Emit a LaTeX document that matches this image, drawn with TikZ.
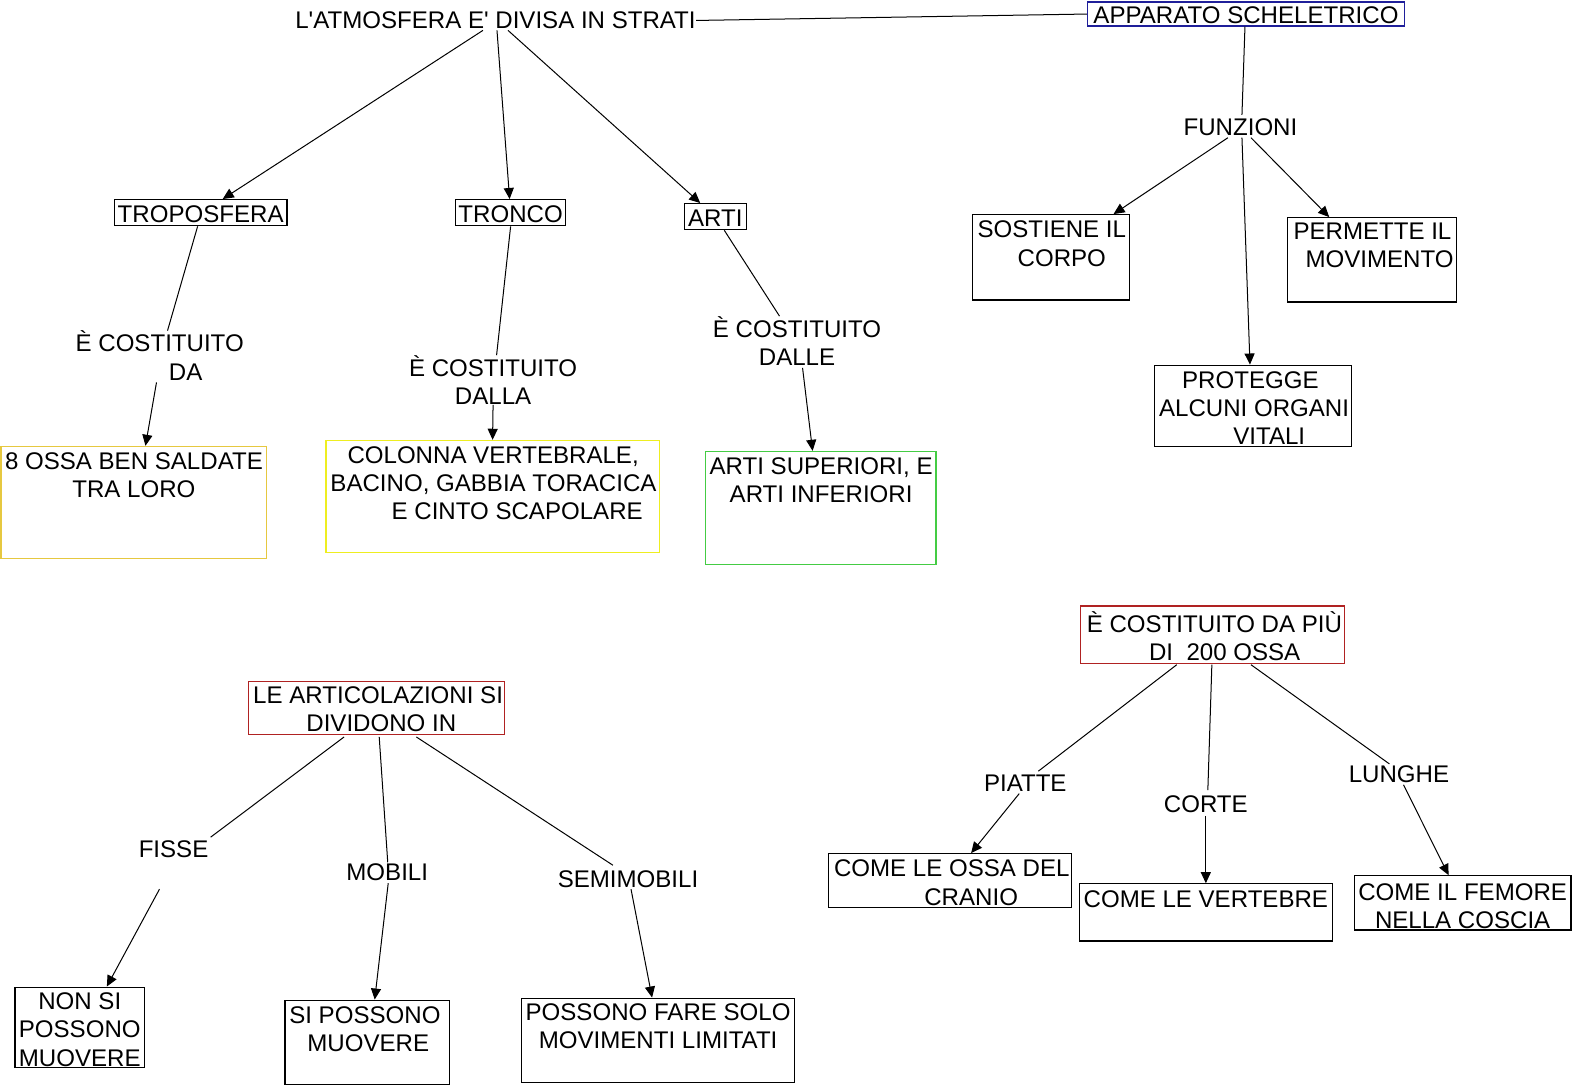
\documentclass[tikz,border=0pt]{standalone}
\usepackage{fontspec}
\setmainfont{Liberation Sans}[Ligatures=TeXOff]
\usetikzlibrary{arrows.meta,calc,fit}
\definecolor{navyb}{HTML}{1F1F9A}
\definecolor{goldb}{HTML}{E6C840}
\definecolor{yelb}{HTML}{EEEE20}
\definecolor{grnb}{HTML}{44CC44}
\definecolor{redb}{HTML}{B02222}
\begin{document}
\begin{tikzpicture}[x=0.5pt,y=-0.5pt,
  every node/.style={font=\fontsize{12}{14}\selectfont, inner sep=0pt},
  tx/.style={yshift=-0.7pt},
  txt/.style={tx, align=center},
  txl/.style={tx, align=left, anchor=west},
  box/.style={draw=black, line width=0.6pt, inner sep=0pt},
  conn/.style={line width=0.5pt},
  arr/.style={conn, -{Triangle[length=5.5pt,width=5pt]}}]
\path[use as bounding box] (0,0) rectangle (1568,1085);

% ---------- top left tree
\node[tx, anchor=west] (title) at (294,19) {L'ATMOSFERA E' DIVISA IN STRATI};
\node[box, draw=navyb, fit={(1084,2) (1400,26)}] (appar) {};
\node[tx] (appart) at (1242,14) {APPARATO SCHELETRICO};
\draw[conn] (title.east) -- (appar.west);

\node[box, fit={(114,199) (286,225)}] (tropo) {};
\node[tx] (tropot) at (200,212) {TROPOSFERA};
\node[box, fit={(454,199) (564,225)}] (tronco) {};
\node[tx] (troncot) at (509,212) {TRONCO};
\node[box, fit={(682,203) (744,229)}] (arti) {};
\node[tx] (artit) at (713,216) {ARTI};

\draw[arr] ($(title.south)+(-12.5,1)$) -- ($(tropo.north)+(22,0)$);
\draw[arr] ($(title.south)+(1.5,1)$) -- ($(tronco.north)+(-1,0)$);
\draw[arr] ($(title.south)+(12.5,1)$) -- ($(arti.north)+(-15,0)$);

% troposfera branch
\node[txl] (lbl1) at (75,353) {È COSTITUITO\\\hspace*{46.5pt}DA};
\node[box, draw=goldb, fit={(1,445) (266,557)}] (ossa) {};
\node[txt] (ossat) at (133.5,472.5) {8 OSSA BEN SALDATE\\TRA LORO};
\draw[conn] ($(tropo.south)+(-3,0)$) -- ($(lbl1.north west)+(92,0)$);
\draw[arr] ($(lbl1.south west)+(81,2)$) -- ($(ossa.north)+(11.5,0)$);

% tronco branch
\node[txt] (lbl2) at (491.5,377.5) {È COSTITUITO\\DALLA};
\node[box, draw=yelb, fit={(325,439) (657,551)}] (colon) {};
\node[txl] (colont) at (329,480.5) {\hspace*{8.5pt}COLONNA VERTEBRALE,\\BACINO, GABBIA TORACICA\\\hspace*{30.5pt}E CINTO SCAPOLARE};
\draw[conn] (tronco.south) -- ($(lbl2.north)+(3.5,0)$);
\draw[arr] ($(lbl2.south)+(0,0)$) -- (colon.north);

% arti branch
\node[txt] (lbl3) at (794.5,338.5) {È COSTITUITO\\DALLE};
\node[box, draw=grnb, fit={(703,450) (933,563)}] (artis) {};
\node[txt] (artist) at (818.5,477.5) {ARTI SUPERIORI, E\\ARTI INFERIORI};
\draw[conn] ($(arti.south)+(9,0)$) -- ($(lbl3.north)+(-17.5,0)$);
\draw[arr] ($(lbl3.south)+(5.5,2)$) -- ($(artis.north)+(-8,0)$);

% ---------- apparato scheletrico
\node[tx] (funz) at (1236.5,125) {FUNZIONI};
\draw[conn] ($(appar.south)+(-1,0)$) -- ($(funz.north)+(1.5,-3)$);
\node[box, fit={(969,214) (1126,299)}] (sost) {};
\node[txl] (sostt) at (974,241.5) {SOSTIENE IL\\\hspace*{20pt}CORPO};
\node[box, fit={(1283,217) (1452,301)}] (perm) {};
\node[txl] (permt) at (1289,243) {PERMETTE IL\\\hspace*{6pt}MOVIMENTO};
\node[box, fit={(1151,364) (1347,445)}] (prot) {};
\node[txl] (prott) at (1155,405.3) {\hspace*{11.5pt}PROTEGGE\\ALCUNI ORGANI\\\hspace*{37pt}VITALI};
\draw[arr] ($(funz.south)+(-12.5,2)$) -- ($(sost.north)+(62.5,0)$);
\draw[arr] ($(funz.south)+(1.5,2)$) -- ($(prot.north)+(-3,0)$);
\draw[arr] ($(funz.south)+(10.5,2)$) -- ($(perm.north)+(-42.5,0)$);

% ---------- ossa
\node[box, draw=redb, fit={(1077,604) (1340,661)}] (piu) {};
\node[txl] (piut) at (1083,632.5) {È COSTITUITO DA PIÙ\\\hspace*{31pt}DI\ \ 200 OSSA};
\node[tx] (piat) at (1022,779) {PIATTE};
\node[tx] (corte) at (1202,800) {CORTE};
\node[tx] (lung) at (1394.5,770) {LUNGHE};
\draw[conn] ($(piu.south)+(-35.5,1)$) -- ($(piat.north)+(13,-3)$);
\draw[conn] ($(piu.south)+(-0.5,1)$) -- ($(corte.north)+(2,-5)$);
\draw[conn] ($(piu.south)+(38.5,1)$) -- ($(lung.north)+(-9.5,-1)$);
\node[box, fit={(826,851) (1068,905)}] (cran) {};
\node[txl] (crant) at (831,878.5) {COME LE OSSA DEL\\\hspace*{45pt}CRANIO};
\node[box, fit={(1076,881) (1328,938)}] (vert) {};
\node[tx] (vertt) at (1202,895) {COME LE VERTEBRE};
\node[box, fit={(1350,873) (1566,927)}] (fem) {};
\node[txt] (femt) at (1458,901.5) {COME IL FEMORE\\NELLA COSCIA};
\draw[arr] ($(piat.south)+(-6,2)$) -- ($(cran.north)+(21,0)$);
\draw[arr] ($(corte.south)+(0,3)$) -- (vert.north);
\draw[arr] ($(lung.south)+(4.5,2)$) -- ($(fem.north)+(-14,0)$);

% ---------- articolazioni
\node[box, draw=redb, fit={(248,679) (503,732)}] (artic) {};
\node[txl] (artict) at (252,706) {LE ARTICOLAZIONI SI\\\hspace*{26.5pt}DIVIDONO IN};
\node[tx] (fisse) at (173,845) {FISSE};
\node[tx] (mobi) at (386,868) {MOBILI};
\node[tx] (semi) at (626,875) {SEMIMOBILI};
\draw[conn] ($(artic.south)+(-32.5,2)$) -- ($(fisse.north)+(37,-3)$);
\draw[conn] ($(artic.south)+(2.5,2)$) -- ($(mobi.north)+(0.5,-1)$);
\draw[conn] ($(artic.south)+(39.5,2)$) -- ($(semi.north)+(-15,-5)$);
\node[box, fit={(15,984) (144,1064)}] (nonsi) {};
\node[txt] (nonsit) at (79.5,1025) {NON SI\\POSSONO\\MUOVERE};
\node[box, fit={(284,997) (448,1081)}] (sipos) {};
\node[txl] (sipost) at (288,1024.5) {SI POSSONO\\\hspace*{9pt}MUOVERE};
\node[box, fit={(520,995) (792,1079)}] (poss) {};
\node[txt] (posst) at (656,1021.5) {POSSONO FARE SOLO\\MOVIMENTI LIMITATI};
\draw[arr] ($(fisse.south)+(-14,31)$) -- ($(nonsi.north)+(27,0)$);
\draw[arr] ($(mobi.south)+(1,2)$) -- ($(sipos.north)+(7.5,0)$);
\draw[arr] ($(semi.south)+(3,1)$) -- ($(poss.north)+(-6,0)$);
\end{tikzpicture}
\end{document}
